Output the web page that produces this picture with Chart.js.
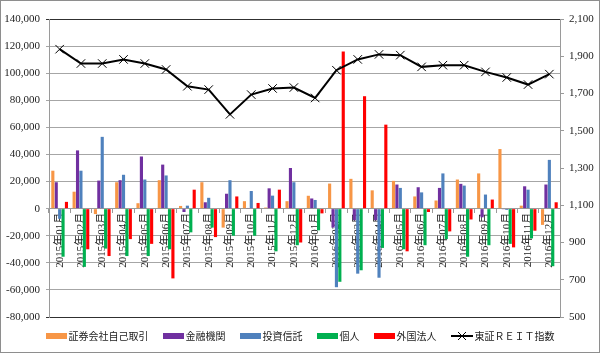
<!DOCTYPE html>
<html lang="ja">
<head>
<meta charset="utf-8">
<script src="https://cdn.jsdelivr.net/npm/chart.js@4/dist/chart.umd.min.js"></script>
<style>
  html, body { margin: 0; padding: 0; background: #fff; }
  .frame {
    position: relative;
    width: 600px;
    height: 353px;
    box-sizing: border-box;
    border: 1px solid #8e8e8e;
  }
  #trendChart { position: absolute; left: 0; top: 0; }
  #chartLegend {
    position: absolute;
    left: 0;
    right: 0;
    top: 328px;
    display: flex;
    justify-content: center;
    gap: 14px;
    font: 10px "Noto Sans CJK JP", sans-serif;
    color: #222;
    line-height: 14px;
  }
  .legend-item { display: flex; align-items: center; gap: 2px; }
  .legend-box { width: 21px; height: 6px; }
</style>
</head>
<body>
<div class="frame">
  <canvas id="trendChart" width="598" height="351"></canvas>
  <div id="chartLegend"></div>
</div>
<script>
// ── Data ────────────────────────────────────────────────────────────────────
const months = [
  "2015年01月", "2015年02月", "2015年03月", "2015年04月", "2015年05月", "2015年06月",
  "2015年07月", "2015年08月", "2015年09月", "2015年10月", "2015年11月", "2015年12月",
  "2016年01月", "2016年02月", "2016年03月", "2016年04月", "2016年05月", "2016年06月",
  "2016年07月", "2016年08月", "2016年09月", "2016年10月", "2016年11月", "2016年12月",
];

const proprietary = [28000, 12500, -4000, 19500, 4000, 21000, 2000, 19500, -14000, 5500, 800, 5500,
  9500, 18500, 22000, 13500, 20500, 9000, 6000, 21500, 26000, 44000, 2200, -12000];
const financial = [19500, 43000, 20700, 21000, 38500, 32500, -2500, 4700, 11000, 500, 15000, 30000,
  7500, -14000, -8500, -8500, 17800, 15800, 15300, 18300, -6400, -500, 16500, 17800];
const trusts = [-7500, 28000, 53000, 25000, 21500, 24500, 2200, 8000, 21000, 13000, 9600, 19500,
  6400, -58000, -48000, -51000, 15300, 12000, 26000, 17000, 10400, -1000, 14000, 36000];
const individuals = [-35500, -43000, -29500, -35000, -35000, -30000, -17500, -14000, -20000, -20000, -31500, -27000,
  -16000, -54000, -45500, -29000, -30000, -27000, -22500, -35500, -27000, -26000, -22000, -42500];
const foreign = [5000, -30000, -35000, -22500, -26000, -51500, 14000, -21000, 9000, 4200, 14000, -25000,
  -3500, 116000, 83000, 62000, -31500, -2500, -16800, -8000, 6700, -28600, -16300, 4700];
const reitIndex = [1938, 1861, 1861, 1883, 1861, 1829, 1739, 1721, 1588, 1694, 1727, 1732,
  1676, 1825, 1883, 1910, 1906, 1843, 1852, 1852, 1816, 1786, 1748, 1804];

const leftTicks = { min: -80000, max: 140000, step: 20000 };
const rightTicks = { min: 500, max: 2100, step: 200 };

const barSeries = [
  { label: "証券会社自己取引", color: "#f79646", data: proprietary },
  { label: "金融機関", color: "#7030a0", data: financial },
  { label: "投資信託", color: "#4f81bd", data: trusts },
  { label: "個人", color: "#00b050", data: individuals },
  { label: "外国法人", color: "#ff0000", data: foreign },
];
const lineLabel = "東証ＲＥＩＴ指数";

// ── Datasets ────────────────────────────────────────────────────────────────
const datasets = barSeries.map((s) => ({
  type: "bar",
  label: s.label,
  data: s.data,
  backgroundColor: s.color,
  borderWidth: 0,
  yAxisID: "y",
  order: 1,
  categoryPercentage: 0.8,
  barPercentage: 0.92,
}));

datasets.push({
  type: "line",
  label: lineLabel,
  data: reitIndex,
  yAxisID: "y2",
  order: 0,
  borderColor: "#000",
  borderWidth: 2,
  tension: 0,
  pointStyle: "crossRot",
  pointRadius: 6,
  pointBorderColor: "#000",
  pointBorderWidth: 1,
  pointBackgroundColor: "#000",
});

const tickFont = { family: "'Liberation Serif', 'Noto Sans CJK JP'", size: 11 };

// ── Chart ───────────────────────────────────────────────────────────────────
const ctx = document.getElementById("trendChart").getContext("2d");
new Chart(ctx, {
  data: { labels: months, datasets },
  options: {
    responsive: false,
    animation: false,
    layout: { padding: { top: 18, bottom: 35, left: 0, right: 0 } },
    plugins: {
      legend: { display: false }, // legend is built in HTML below
      tooltip: { enabled: false },
    },
    scales: {
      x: {
        position: { y: 0 },
        offset: true,
        grid: {
          offset: true,
          drawOnChartArea: false,
          drawTicks: true,
          tickLength: 4,
          color: "#9a9a9a",
        },
        border: { color: "#9a9a9a" },
        ticks: {
          autoSkip: false,
          maxRotation: 90,
          minRotation: 90,
          padding: 0,
          color: "#222",
          font: tickFont,
        },
      },
      y: {
        position: "left",
        min: leftTicks.min,
        max: leftTicks.max,
        afterFit: (s) => { s.width = 48; },
        grid: {
          color: (c) =>
            c.tick && (c.tick.value === leftTicks.max || c.tick.value === leftTicks.min) ? "#303030" : "#a6a6a6",
          tickLength: 3,
        },
        border: { color: "#9a9a9a" },
        ticks: {
          stepSize: leftTicks.step,
          padding: 6,
          color: "#222",
          font: tickFont,
          callback: (v) => v.toLocaleString("en-US"),
        },
      },
      y2: {
        position: "right",
        min: rightTicks.min,
        max: rightTicks.max,
        afterFit: (s) => { s.width = 39; },
        grid: { drawOnChartArea: false, tickLength: 4, color: "#9a9a9a" },
        border: { color: "#9a9a9a" },
        ticks: {
          stepSize: rightTicks.step,
          padding: 5,
          color: "#222",
          font: tickFont,
          callback: (v) => v.toLocaleString("en-US"),
        },
      },
    },
  },
});

// ── Build custom legend ─────────────────────────────────────────────────────
const legendEl = document.getElementById("chartLegend");
barSeries.forEach((s) => {
  const item = document.createElement("div");
  item.className = "legend-item";
  item.innerHTML = `<div class="legend-box" style="background:${s.color}"></div><span>${s.label}</span>`;
  legendEl.appendChild(item);
});
const lineItem = document.createElement("div");
lineItem.className = "legend-item";
lineItem.innerHTML = `
  <svg width="22" height="10" viewBox="0 0 22 10">
    <line x1="0" y1="5" x2="22" y2="5" stroke="#000" stroke-width="2"/>
    <path d="M7 1 L15 9 M15 1 L7 9" stroke="#000" stroke-width="1"/>
  </svg>
  <span>${lineLabel}</span>`;
legendEl.appendChild(lineItem);
</script>
</body>
</html>
